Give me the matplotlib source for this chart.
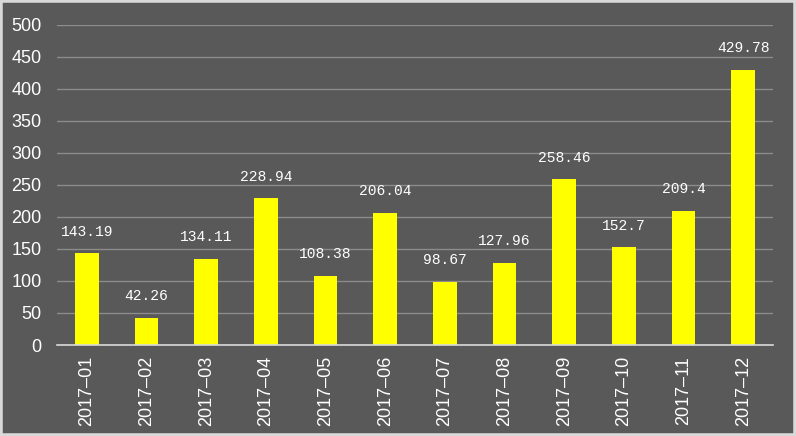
import matplotlib.pyplot as plt
from matplotlib.patches import Rectangle

months = ['2017-01', '2017-02', '2017-03', '2017-04', '2017-05', '2017-06',
          '2017-07', '2017-08', '2017-09', '2017-10', '2017-11', '2017-12']
values = [143.19, 42.26, 134.11, 228.94, 108.38, 206.04,
          98.67, 127.96, 258.46, 152.7, 209.4, 429.78]
yticks = [0, 50, 100, 150, 200, 250, 300, 350, 400, 450, 500]

bg = '#595959'
fig = plt.figure(figsize=(7.96, 4.36), dpi=100, facecolor=bg)
fig.patches.append(Rectangle((0, 0), 1, 1, transform=fig.transFigure,
                             fill=False, edgecolor='#d9d9d9', linewidth=4))
ax = fig.add_axes([0.0716, 0.2087, 0.8995, 0.7351])
ax.set_facecolor(bg)

x = range(len(months))
ax.bar(x, values, width=0.4, color='#ffff00', zorder=3)

for i, v in zip(x, values):
    ax.annotate(f'{v:g}', (i, v), xytext=(0, 10.5), textcoords='offset points',
                ha='center', va='bottom', color='white', fontsize=10.5,
                family='Liberation Mono')

ax.set_xlim(-0.5, len(months) - 0.5)
ax.set_ylim(0, 500)
ax.set_yticks(yticks)
ax.set_xticks(list(x))
ax.set_xticklabels([m.replace('-', '\u2013') for m in months], rotation=90)
ax.tick_params(axis='both', colors='white', labelsize=13, length=0)
ax.tick_params(axis='y', pad=11)
ax.tick_params(axis='x', pad=8)
for lab in ax.get_xticklabels() + ax.get_yticklabels():
    lab.set_family('Liberation Sans')

ax.grid(axis='y', color='#8c8c8c', linewidth=1, zorder=0)
for s in ['top', 'right', 'left']:
    ax.spines[s].set_visible(False)
ax.spines['bottom'].set_color('#d9d9d9')
ax.spines['bottom'].set_linewidth(1.2)
ax.spines['bottom'].set_zorder(4)

plt.savefig('out.png', dpi=100, facecolor=bg)
